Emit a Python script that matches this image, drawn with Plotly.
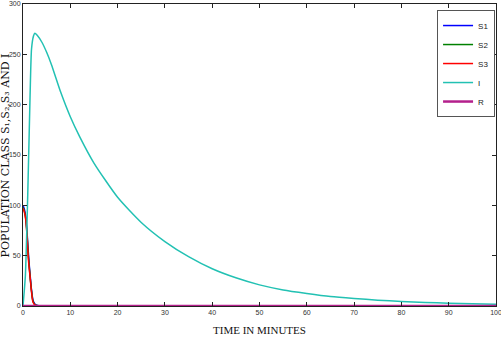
import plotly.graph_objects as go

# ---- data ----
t_I = [0, 0.5, 1, 1.5, 1.8, 2.2, 2.5, 3, 4, 5, 6, 8, 10, 12, 15, 20, 25, 30, 35, 40,
       45, 50, 55, 60, 65, 70, 75, 80, 85, 90, 95, 100]
I_vals = [0, 30, 110, 210, 255, 268, 271, 269, 262, 252, 240, 212, 188, 168, 142, 108,
          83, 64, 49, 37, 28, 21, 16, 12.5, 9.5, 7.5, 5.8, 4.5, 3.5, 2.8, 2.2, 1.7]

t_S = [0, 0.3, 0.6, 0.9, 1.1, 1.3, 1.5, 1.8, 2.1, 2.5, 3, 4, 10, 20, 40, 60, 80, 100]
S1_vals = [100, 96, 88, 70, 55, 42, 31, 16, 6, 2, 0.5, 0, 0, 0, 0, 0, 0, 0]
S2_vals = [98, 94, 86, 68, 52, 40, 29, 15, 5, 1.5, 0.4, 0, 0, 0, 0, 0, 0, 0]
S3_vals = [97, 93, 85, 66, 49, 38, 29, 14, 4, 1.2, 0.3, 0, 0, 0, 0, 0, 0, 0]

t_R = [0, 10, 20, 30, 40, 50, 60, 70, 80, 90, 100]
R_vals = [0, 0, 0, 0, 0, 0, 0, 0, 0, 0, 0]

x_ticks = [0, 10, 20, 30, 40, 50, 60, 70, 80, 90, 100]
y_ticks = [0, 50, 100, 150, 200, 250, 300]

series = [
    ("S1", t_S, S1_vals, "#0000ff", 1.5),
    ("S2", t_S, S2_vals, "#008000", 1.5),
    ("S3", t_S, S3_vals, "#ff0000", 1.5),
    ("I", t_I, I_vals, "#22c1b3", 1.5),
    ("R", t_R, R_vals, "#b4208c", 2.5),
]

fig = go.Figure()
for name, x, y, c, w in series:
    fig.add_trace(go.Scatter(x=x, y=y, name=name, mode="lines",
                             line=dict(color=c, width=w, shape="spline", smoothing=0.6)))

tickfont = dict(family="Liberation Sans Narrow, Arial Narrow, Liberation Sans, sans-serif",
                size=7, color="#333333")
axis_common = dict(showgrid=False, zeroline=False, showline=True, linecolor="#222222",
                   linewidth=1, mirror="ticks", ticks="inside", ticklen=4,
                   tickcolor="#222222", tickfont=tickfont, ticklabeloverflow="allow",
                   automargin=False)

fig.update_layout(
    width=501, height=338,
    margin=dict(l=23, r=5, t=4, b=32),
    paper_bgcolor="white", plot_bgcolor="white",
    xaxis=dict(range=[0, 100], tickvals=x_ticks, ticklabelstandoff=0, **axis_common),
    yaxis=dict(range=[0, 300], tickvals=y_ticks, ticklabelstandoff=0, **axis_common),
    legend=dict(x=0.998, y=0.98, xanchor="right", yanchor="top",
                bordercolor="#555555", borderwidth=1, bgcolor="white",
                font=dict(family="Liberation Sans Narrow, Arial Narrow, sans-serif", size=8,
                          color="#222222"),
                itemwidth=30, tracegroupgap=0),
    showlegend=True,
    annotations=[
        dict(text="TIME IN MINUTES", x=0.5, y=-0.079, xref="paper", yref="paper",
             xanchor="center", yanchor="middle", showarrow=False,
             font=dict(family="Liberation Serif, Times New Roman, serif", size=11, color="#111111")),
        dict(text="POPULATION CLASS S₁,S₂,S₃ AND I", x=-0.037, y=0.5, xref="paper", yref="paper",
             xanchor="center", yanchor="middle", textangle=-90, showarrow=False,
             font=dict(family="DejaVu Serif, serif", size=11, color="#111111")),
    ],
)

fig.write_html("out.html", post_script="document.body.style.margin='0';",
               config={"displayModeBar": False})
